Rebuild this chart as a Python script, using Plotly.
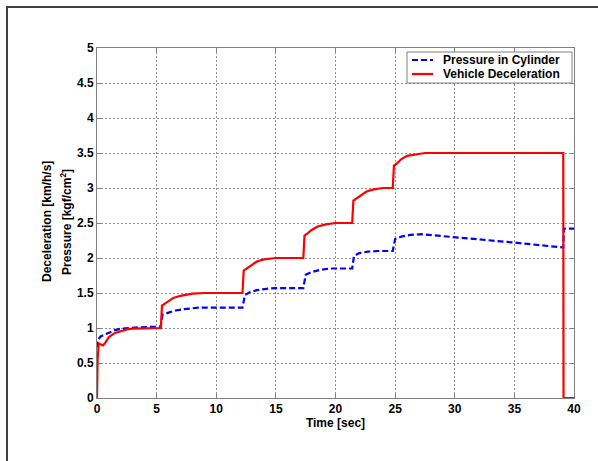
import plotly.graph_objects as go

# Vehicle deceleration (red solid)
t_dec = [0, 0.05, 0.15, 0.3, 0.5, 0.7, 1.0, 1.5, 2.0, 2.5, 3.0, 5.35,
         5.45, 5.7, 6.0, 6.4, 7.0, 8.0, 9.0, 12.2,
         12.3, 12.55, 12.9, 13.4, 14.0, 15.0, 17.3,
         17.4, 17.65, 18.0, 18.5, 19.2, 20.0, 21.4,
         21.5, 21.75, 22.1, 22.6, 23.2, 24.0, 24.8,
         24.9, 25.15, 25.5, 26.0, 26.6, 27.5, 39.1, 39.12, 40.0]
v_dec = [0, 0.55, 0.78, 0.77, 0.75, 0.79, 0.87, 0.93, 0.96, 0.98, 0.99, 1.0,
         1.32, 1.35, 1.39, 1.43, 1.46, 1.49, 1.5, 1.5,
         1.82, 1.85, 1.90, 1.95, 1.98, 2.0, 2.0,
         2.32, 2.35, 2.40, 2.45, 2.48, 2.5, 2.5,
         2.82, 2.85, 2.90, 2.95, 2.98, 3.0, 3.0,
         3.32, 3.35, 3.41, 3.46, 3.48, 3.5, 3.5, 0.0, 0.0]

# Pressure in cylinder (blue dashed)
t_prs = [0, 0.05, 0.3, 0.7, 1.0, 1.5, 2.0, 2.5, 3.5, 5.35,
         5.5, 6.0, 6.6, 7.3, 8.5, 12.2,
         12.4, 12.8, 13.4, 14.2, 15.0, 17.3,
         17.5, 18.0, 18.7, 19.5, 21.4,
         21.55, 22.0, 22.7, 23.5, 24.8,
         25.0, 25.6, 26.3, 27.2, 30.0, 35.0, 39.1, 39.15, 40.0]
v_prs = [0.72, 0.82, 0.88, 0.91, 0.94, 0.97, 0.99, 1.0, 1.01, 1.02,
         1.19, 1.22, 1.25, 1.27, 1.29, 1.29,
         1.47, 1.51, 1.54, 1.56, 1.57, 1.57,
         1.76, 1.80, 1.83, 1.85, 1.85,
         2.03, 2.07, 2.09, 2.1, 2.1,
         2.27, 2.31, 2.33, 2.34, 2.3, 2.22, 2.15, 2.42, 2.42]

x_ticks = [0, 5, 10, 15, 20, 25, 30, 35, 40]
y_ticks = [0, 0.5, 1, 1.5, 2, 2.5, 3, 3.5, 4, 4.5, 5]

series_names = ["Pressure in Cylinder", "Vehicle Deceleration"]
series_colors = ["#0000ff", "#ff0000"]
series_dash = ["6px,3px", "solid"]
y_title_lines = ["Deceleration [km/h/s]", "Pressure [kgf/cm<sup>2</sup>]"]

fig = go.Figure()
fig.add_trace(go.Scatter(x=t_prs, y=v_prs, mode="lines", name=series_names[0],
                         cliponaxis=False,
                         line=dict(color=series_colors[0], width=2.2, dash=series_dash[0])))
fig.add_trace(go.Scatter(x=t_dec, y=v_dec, mode="lines", name=series_names[1],
                         cliponaxis=False,
                         line=dict(color=series_colors[1], width=2.2, dash=series_dash[1])))

L, R, T, B = 97, 24, 48, 63
W, H = 598, 461
pw, ph = W - L - R, H - T - B


def px(x):
    return (x - L) / pw


def py(y):
    return (H - B - y) / ph


# outer frame
fig.add_shape(type="rect", xref="paper", yref="paper",
              x0=px(7), x1=px(W + 5), y0=py(H + 5), y1=py(7),
              line=dict(color="#404040", width=2), fillcolor="rgba(0,0,0,0)", layer="below")

font = dict(family="Liberation Sans, Arial, sans-serif", size=12, color="black", weight="bold")

# custom legend (compact, like the original)
fig.add_shape(type="rect", xref="paper", yref="paper",
              x0=px(407), x1=px(572), y0=py(83), y1=py(52),
              line=dict(color="#808080", width=1), fillcolor="white", layer="above")
for i, (nm, col, ds) in enumerate(zip(series_names, series_colors, series_dash)):
    yy = 60 + i * 14
    fig.add_shape(type="line", xref="paper", yref="paper",
                  x0=px(412), x1=px(433), y0=py(yy), y1=py(yy),
                  line=dict(color=col, width=2.2, dash=ds), layer="above")
    fig.add_annotation(xref="paper", yref="paper", x=px(441), y=py(yy),
                       xanchor="left", yanchor="middle", text=nm, showarrow=False,
                       font=font)

# y-axis title (two lines)
for i, txt in enumerate(y_title_lines):
    fig.add_annotation(xref="paper", yref="paper", x=px(47 + i * 19), y=py(222),
                       xanchor="center", yanchor="middle", text=txt, textangle=-90,
                       showarrow=False, font=font)

fig.update_layout(
    width=W, height=H,
    margin=dict(l=L, r=R, t=T, b=B),
    paper_bgcolor="white", plot_bgcolor="white",
    font=font,
    showlegend=False,
    xaxis=dict(range=[0, 40], tickvals=x_ticks, ticktext=[str(v) for v in x_ticks],
               showgrid=True, gridcolor="#909090", griddash="2px,2px", gridwidth=1,
               showline=True, linecolor="#808080", linewidth=1, mirror="ticks",
               ticks="inside", ticklen=4, tickcolor="#808080", zeroline=False,
               layer="below traces", tickfont=font,
               title=dict(text="Time [sec]", font=font, standoff=0)),
    yaxis=dict(range=[0, 5], tickvals=y_ticks, ticktext=[f"{v:g}" for v in y_ticks],
               showgrid=True, gridcolor="#909090", griddash="2px,2px", gridwidth=1,
               showline=True, linecolor="#808080", linewidth=1, mirror="ticks",
               ticks="inside", ticklen=4, tickcolor="#808080", zeroline=False,
               layer="below traces", tickfont=font),
)

fig.write_html("out.html")
